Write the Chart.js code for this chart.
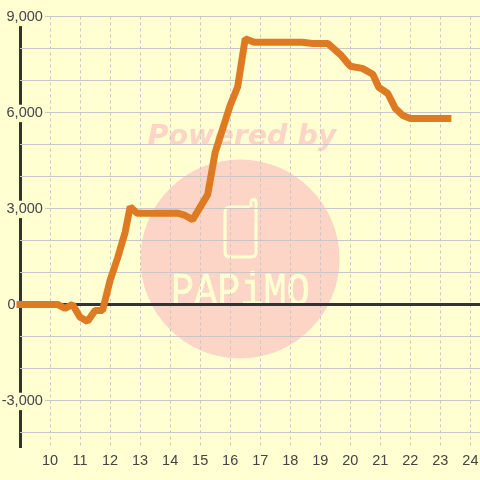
<!DOCTYPE html>
<html>
<head>
<meta charset="utf-8">
<style>
html, body { margin: 0; padding: 0; background: #ffffd2; }
#box { width: 480px; height: 480px; }
</style>
<script src="https://cdn.jsdelivr.net/npm/chart.js@4"></script>
</head>
<body>
<div id="box"><canvas id="chart"></canvas></div>
<script>
// hours of the day and the value at each of them
const hours = [9, 10.25, 10.5, 10.75, 11, 11.25, 11.5, 11.75, 12, 12.25, 12.5, 12.67, 12.9, 14.25, 14.5, 14.75,
	15.25, 15.5, 16, 16.25, 16.5, 16.8, 18.4, 18.75, 19.25, 19.7, 20, 20.4, 20.75, 20.95, 21.25, 21.5, 21.75, 22, 23.25];
const values = [0, 0, -130, 0, -400, -530, -190, -190, 750, 1450, 2250, 3050, 2850, 2850, 2780, 2650,
	3430, 4750, 6220, 6800, 8300, 8190, 8190, 8156, 8156, 7780, 7440, 7375, 7190, 6780, 6590, 6125, 5905, 5810, 5810];

const xTicks = [9, 10, 11, 12, 13, 14, 15, 16, 17, 18, 19, 20, 21, 22, 23, 24];
const yTicks = [-4000, -3000, -2000, -1000, 0, 1000, 2000, 3000, 4000, 5000, 6000, 7000, 8000, 9000];
const yLabelled = [-3000, 3000, 6000, 9000];

const bg = '#ffffd2';
const gridColor = '#c6c6cc';
const axisColor = '#333333';
const textColor = '#444444';
const font = { family: '"Liberation Sans", Arial, sans-serif', size: 14.5 };

// logo behind the grid
const watermark = {
	id: 'watermark',
	beforeDraw(chart) {
		const c = chart.ctx;
		c.save();
		c.fillStyle = '#fcd5c6';
		c.beginPath();
		c.arc(240, 259, 99.5, 0, Math.PI * 2);
		c.fill();

		c.font = 'italic bold 28.5px "DejaVu Sans"';
		c.textAlign = 'center';
		c.textBaseline = 'alphabetic';
		c.fillText('Powered by', 242, 145);

		c.strokeStyle = bg;
		c.lineWidth = 3;
		c.beginPath();
		c.moveTo(250, 207);
		c.lineTo(230, 207);
		c.quadraticCurveTo(225, 207, 225, 212);
		c.lineTo(225, 252);
		c.quadraticCurveTo(225, 257, 230, 257);
		c.lineTo(251, 257);
		c.quadraticCurveTo(256, 257, 256, 252);
		c.lineTo(256, 202);
		c.arc(253.5, 202, 2.5, 0, Math.PI, true);
		c.lineTo(251, 207);
		c.stroke();

		c.fillStyle = bg;
		c.font = '47px "Liberation Mono"';
		c.textAlign = 'left';
		c.translate(171, 305);
		c.scale(0.82, 1);
		c.lineWidth = 0.6;
		c.fillText('PAPiMO', 0, 0);
		c.strokeText('PAPiMO', 0, 0);
		c.restore();
	}
};

new Chart(document.getElementById('chart'), {
	type: 'line',
	data: {
		datasets: [{
			data: hours.map((h, i) => ({ x: h, y: values[i] })),
			borderColor: '#dd7a22',
			borderWidth: 7,
			borderCapStyle: 'square',
			borderJoinStyle: 'bevel',
			pointRadius: 0,
			tension: 0,
			clip: false
		}]
	},
	options: {
		responsive: true,
		maintainAspectRatio: false,
		animation: false,
		layout: { padding: { left: 20, right: 0, top: 16.4, bottom: 0 } },
		plugins: { legend: { display: false }, tooltip: { enabled: false } },
		scales: {
			x: {
				type: 'linear',
				position: 'bottom',
				min: 9,
				max: 24.32,
				afterBuildTicks(scale) { scale.ticks = xTicks.map(v => ({ value: v })); },
				afterFit(scale) {
					scale.height = 31.6;
					scale.paddingLeft = 0;
					scale.paddingRight = 0;
				},
				border: {
					display: false,
					dash: ctx => ctx.tick && ctx.tick.value === 9 ? [] : [3, 3]
				},
				grid: {
					drawTicks: false,
					color: ctx => ctx.tick && ctx.tick.value === 9 ? axisColor : gridColor,
					lineWidth: ctx => ctx.tick && ctx.tick.value === 9 ? 3 : 1
				},
				ticks: {
					autoSkip: false,
					maxRotation: 0,
					padding: 4,
					color: textColor,
					font: font,
					callback: v => v === 9 ? '' : String(v)
				}
			},
			y: {
				type: 'linear',
				position: { x: 9.76 },
				min: -4500,
				max: 9000,
				afterBuildTicks(scale) { scale.ticks = yTicks.map(v => ({ value: v })); },
				border: { display: false },
				grid: {
					drawTicks: false,
					color: ctx => ctx.tick && ctx.tick.value === 0 ? axisColor : gridColor,
					lineWidth: ctx => ctx.tick && ctx.tick.value === 0 ? 3 : 1
				},
				ticks: {
					autoSkip: false,
					padding: 0,
					labelOffset: 1,
					color: textColor,
					font: font,
					showLabelBackdrop: ctx => yLabelled.includes(ctx.tick.value),
					backdropColor: bg,
					backdropPadding: { left: 1, right: 2, top: 0, bottom: 0 },
					callback: v => yLabelled.includes(v) ? v.toLocaleString('en-US') : ''
				}
			},
			// the 0 label sits further left than the others
			yZero: {
				type: 'linear',
				position: { x: 8.85 },
				min: -4500,
				max: 9000,
				afterBuildTicks(scale) { scale.ticks = [{ value: 0 }]; },
				border: { display: false },
				grid: { display: false, drawTicks: false },
				ticks: { padding: 0, labelOffset: 1, color: textColor, font: font, callback: v => String(v) }
			}
		}
	},
	plugins: [watermark]
});
</script>
</body>
</html>
